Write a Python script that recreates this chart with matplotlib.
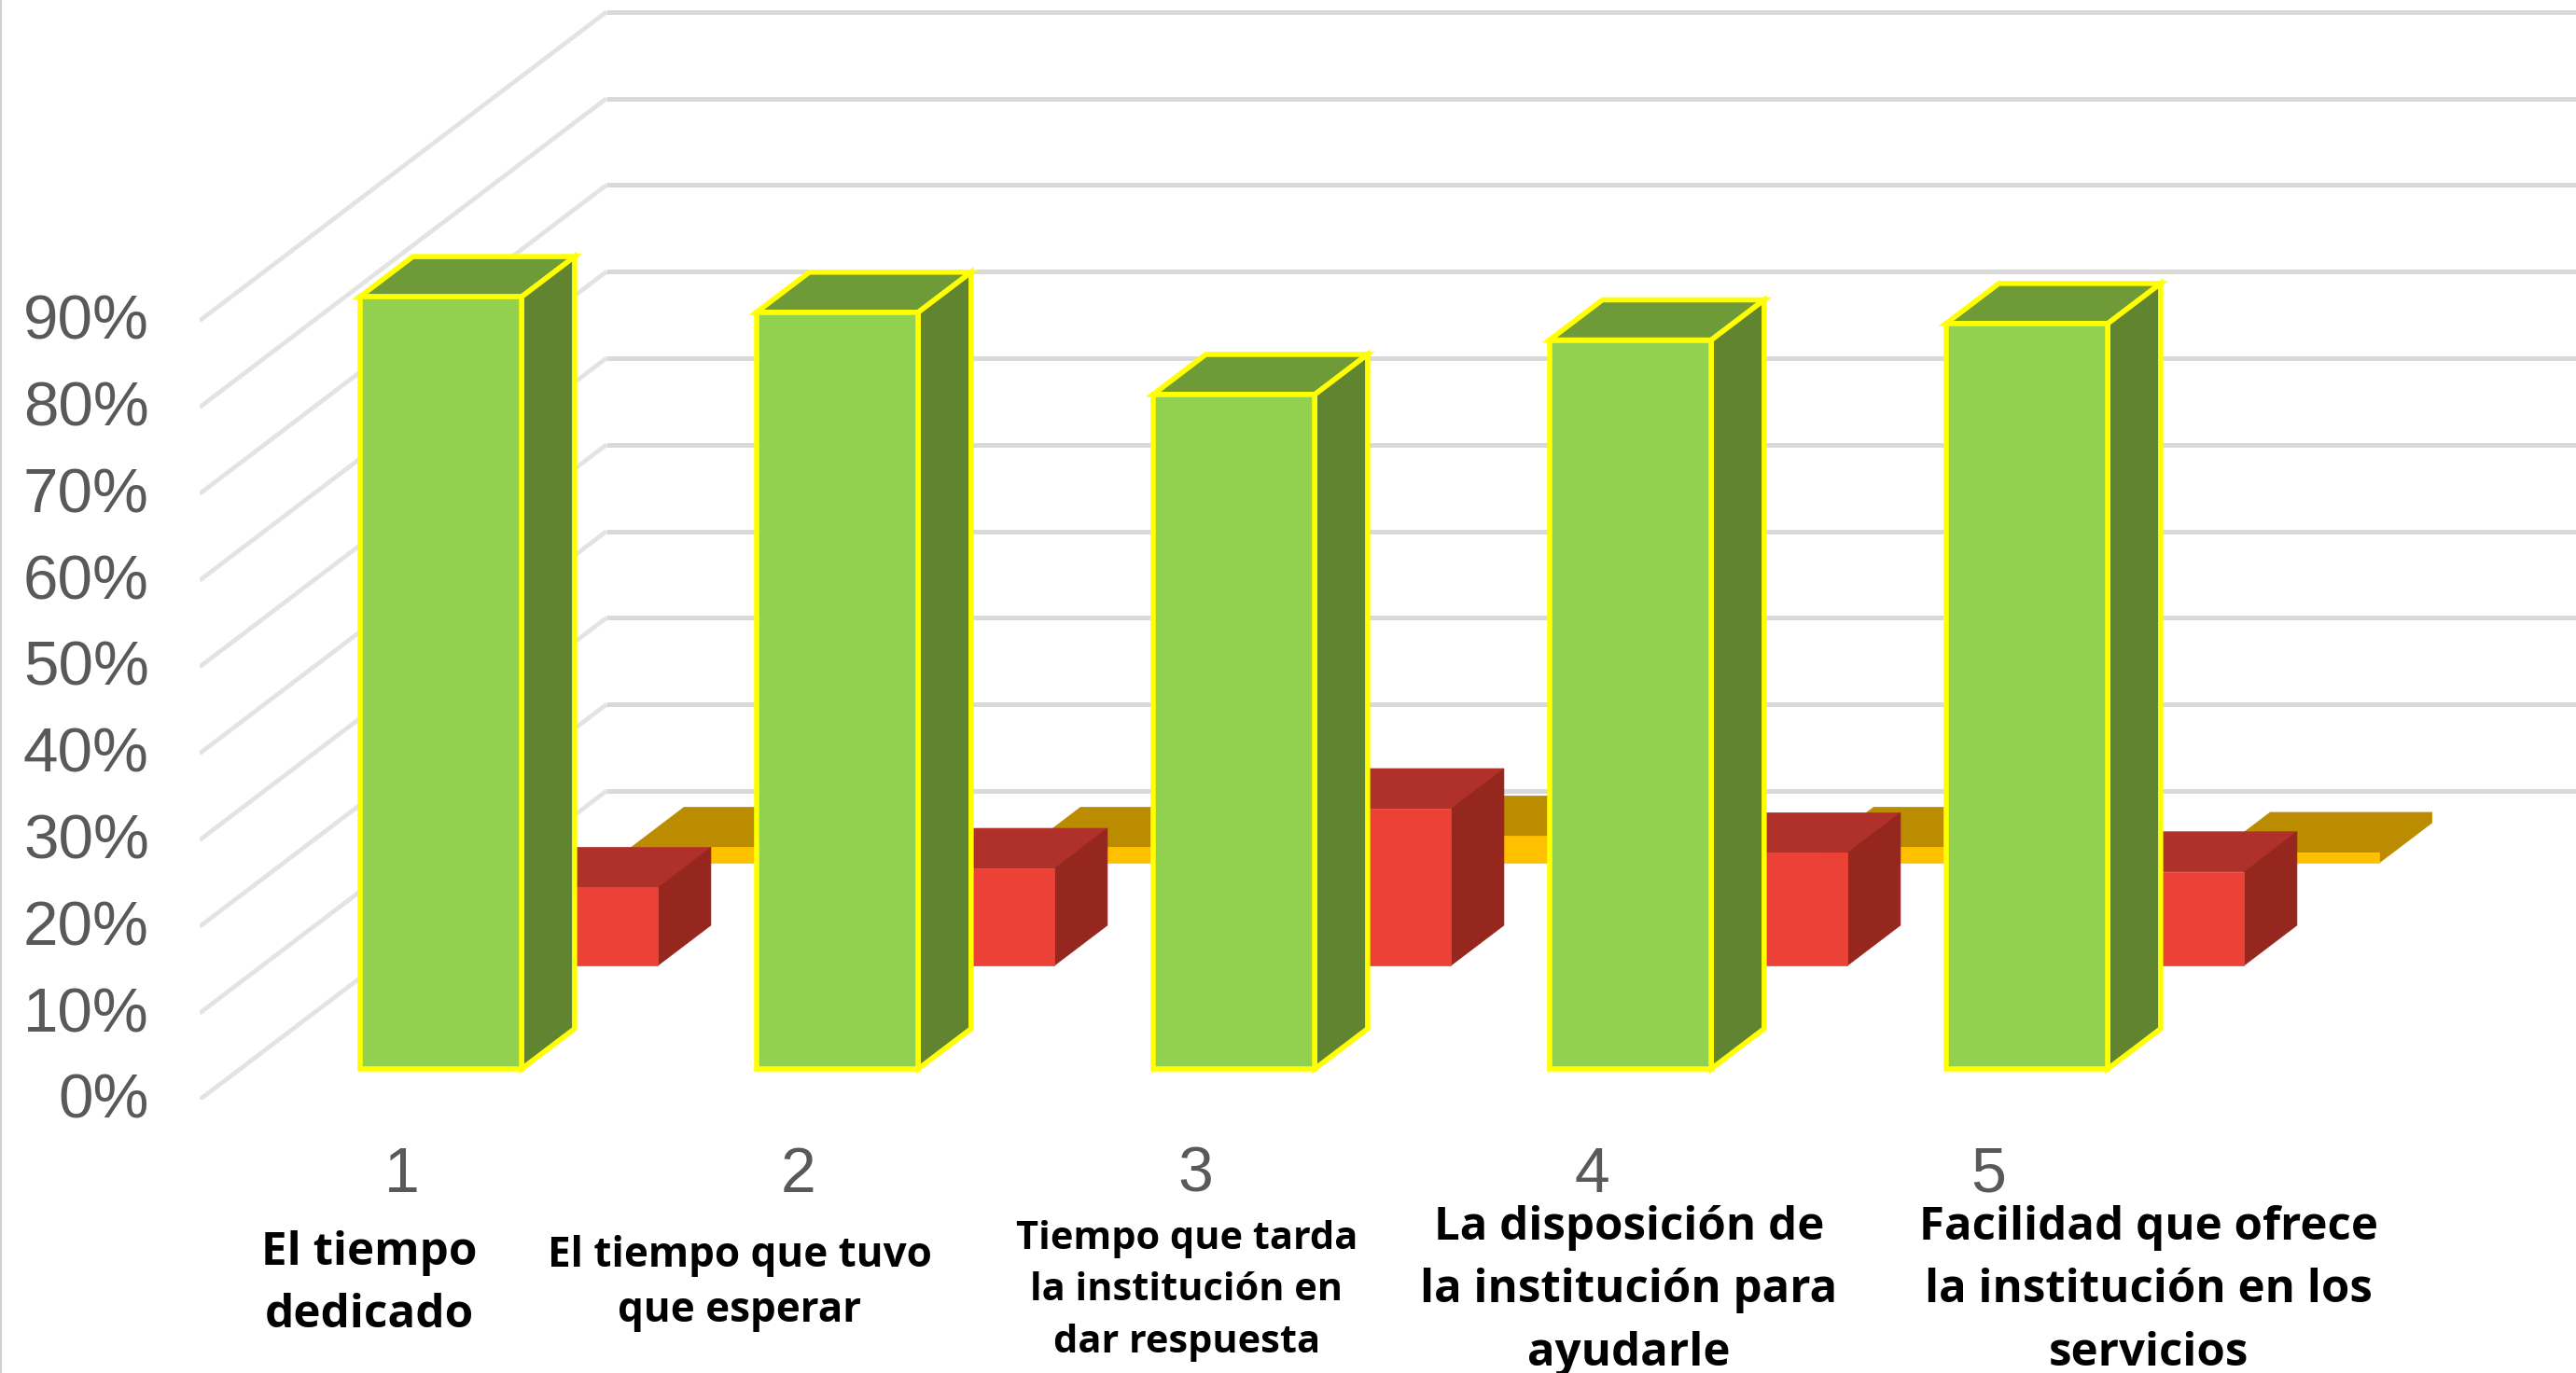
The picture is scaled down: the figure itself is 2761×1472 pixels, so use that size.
import matplotlib.pyplot as plt
from matplotlib.patches import Polygon
from matplotlib.transforms import ScaledTranslation

plt.rcParams['font.family'] = ['Liberation Sans', 'DejaVu Sans']

# chart values, in percent
categories = ['1', '2', '3', '4', '5']
verde = [89.2, 87.4, 77.9, 84.2, 86.1]
rojo = [9.0, 11.2, 18.1, 13.0, 10.8]
naranja = [1.8, 1.8, 3.1, 1.8, 1.2]
percent_ticks = [0, 10, 20, 30, 40, 50, 60, 70, 80, 90]
percent_labels = ['0%', '10%', '20%', '30%', '40%', '50%', '60%', '70%', '80%', '90%']

descripciones = [
    'El tiempo\ndedicado',
    'El tiempo que tuvo\nque esperar',
    'Tiempo que tarda\nla institución en\ndar respuesta',
    'La disposición de\nla institución para\nayudarle',
    'Facilidad que ofrece\nla institución en los\nservicios',
]
# centre x, centre y (figure pixels), font size, line spacing
desc_layout = [
    (396, 1377, 35.6, 1.48),
    (793, 1376, 31.7, 1.42),
    (1272, 1384, 29.9, 1.47),
    (1746, 1384, 35.4, 1.5),
    (2303, 1384, 35.4, 1.5),
]

W, H = 2761, 1472
LEFT, BASE = 214, 1179    # front corner of the 0% line
UNIT_X = 425.0            # pixels per category
UNIT_Y = 9.28             # pixels per percent

# oblique projection, depth 0 is the front of the floor and 1 the back wall
DEPTH_X = 436 / UNIT_X
DEPTH_Y = 331 / UNIT_Y
BAR_LEFT = -0.209
BAR_W = 0.408
BAR_DEPTH = 0.13

fig = plt.figure(figsize=(W / 100, H / 100), dpi=100)
ax = fig.add_axes([LEFT / W, (H - BASE) / H, (W - LEFT) / W, BASE / H])
x_min = 1 - (431 - LEFT) / UNIT_X
x_max = x_min + (W - LEFT) / UNIT_X
ax.set_xlim(x_min, x_max)
ax.set_ylim(0, BASE / UNIT_Y)


def project(x, v, depth):
    return (x + depth * DEPTH_X, v + depth * DEPTH_Y)


def draw_bar(pos, value, depth, front, top, side, edge=None, lw=0, z=3):
    x0 = pos + BAR_LEFT
    x1 = x0 + BAR_W
    d0 = depth
    d1 = depth + BAR_DEPTH
    faces = [
        ([project(x0, value, d0), project(x1, value, d0), project(x1, value, d1), project(x0, value, d1)], top),
        ([project(x1, 0, d0), project(x1, value, d0), project(x1, value, d1), project(x1, 0, d1)], side),
        ([project(x0, 0, d0), project(x1, 0, d0), project(x1, value, d0), project(x0, value, d0)], front),
    ]
    for pts, col in faces:
        ax.add_patch(Polygon(pts, closed=True, facecolor=col,
                             edgecolor=edge if edge else col,
                             linewidth=lw if edge else 0.5,
                             joinstyle='miter', zorder=z))


# floor and wall gridlines
for v in percent_ticks:
    p0 = project(x_min, v, 0)
    p1 = project(x_min, v, 1)
    ax.plot([p0[0], p1[0]], [p0[1], p1[1]], color='#e3e3e3', lw=3.4, zorder=1, solid_capstyle='butt')
    ax.plot([p1[0], x_max], [p1[1], p1[1]], color='#d9d9d9', lw=3.6, zorder=1, solid_capstyle='butt')

# back row first so the nearer rows cover it
for i in range(5):
    draw_bar(i + 1, naranja[i], 0.767, '#ffc000', '#bc8c00', '#bc8c00', z=2)
for i in range(5):
    draw_bar(i + 1, rojo[i], 0.435, '#ec4136', '#b0302a', '#95271f', z=3)
for i in range(5):
    draw_bar(i + 1, verde[i], 0.10, '#92d050', '#6f9a38', '#60842f', edge='#ffff00', lw=4.0, z=4)

ax.set_xticks([1, 2, 3, 4, 5])
ax.set_xticklabels(categories)
ax.set_yticks(percent_ticks)
ax.set_yticklabels(percent_labels)
ax.tick_params(axis='x', length=0, pad=35, labelsize=49, labelcolor='#595959')
ax.tick_params(axis='y', length=0, pad=39, labelsize=48.5, labelcolor='#595959')
for s in ax.spines.values():
    s.set_visible(False)

# y labels sit a little above their gridlines
nudge = ScaledTranslation(0, 3 / 72, fig.dpi_scale_trans)
for lab in ax.get_yticklabels():
    lab.set_transform(lab.get_transform() + nudge)

for txt, (cx, cy, size, spacing) in zip(descripciones, desc_layout):
    fig.text(cx / W, 1 - cy / H, txt, ha='center', va='center', fontsize=size,
             fontweight='bold', family='Open Sans', color='black', linespacing=spacing)

# thin border down the left side
fig.add_artist(plt.Line2D([0.0004, 0.0004], [0, 1], color='#d0d0d0', lw=1.5))

fig.savefig('out.png', dpi=100, facecolor='white')
